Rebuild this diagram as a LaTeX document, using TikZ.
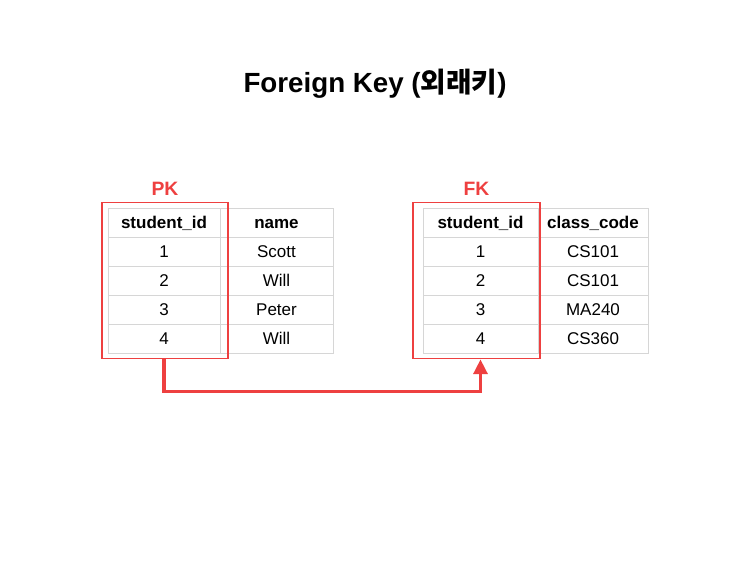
\documentclass[tikz,border=0pt]{standalone}
\usepackage{fontspec}
\setmainfont{Liberation Sans}
\newfontfamily\krfont{Noto Sans CJK KR}
\usetikzlibrary{positioning,arrows.meta,calc}
\definecolor{keyred}{HTML}{EE4040}
\definecolor{gridgrey}{HTML}{D6D6D6}

\begin{document}
\begin{tikzpicture}[
  x=0.75pt,y=-0.75pt,
  font=\fontsize{12.75}{15}\selectfont,
  cell/.style={draw=gridgrey,line width=0.6pt,minimum width=#1,minimum height=21.75pt,inner sep=0pt,text height=12pt,text depth=2.6pt},
  head/.style={cell=#1,font=\fontsize{12.75}{15}\selectfont\bfseries},
  keybox/.style={draw=keyred,line width=1.4pt,minimum width=#1,minimum height=117pt,inner sep=0pt},
  keylabel/.style={text=keyred,font=\fontsize{14.5}{17}\selectfont\bfseries},
  link/.style={draw=keyred,line width=2.3pt,-{Triangle[length=11pt,width=10.5pt]}},
]
  \useasboundingbox (0,0) rectangle (750,561);

  % Title.
  \node[font=\fontsize{20.8}{25}\selectfont\bfseries] (title) at (375,84)
    {Foreign Key ({\krfont 외래키})};

  % Students table.
  \node[head=84pt] (pa0) at (164,222.5) {student\_id};
  \node[head=84.75pt] (pb0) at (276.5,222.5) {name};
  \foreach \id/\nm [count=\i] in {1/Scott,2/Will,3/Peter,4/Will} {
    \node[cell=84pt] (pa\i) at (164,222.5+29*\i) {\id};
    \node[cell=84.75pt] (pb\i) at (276.5,222.5+29*\i) {\nm};
  }

  % Classes table.
  \node[head=86.25pt] (fa0) at (480.5,222.5) {student\_id};
  \node[head=82.5pt] (fb0) at (593,222.5) {class\_code};
  \foreach \id/\cc [count=\i] in {1/CS101,2/CS101,3/MA240,4/CS360} {
    \node[cell=86.25pt] (fa\i) at (480.5,222.5+29*\i) {\id};
    \node[cell=82.5pt] (fb\i) at (593,222.5+29*\i) {\cc};
  }

  % Key columns.
  \node[keybox=94.5pt] (pk) at (165,280.5) {};
  \node[keybox=95.25pt] (fk) at (476.5,280.5) {};
  \node[keylabel,above=1pt of pk] (pklabel) {PK};
  \node[keylabel,above=1pt of fk] (fklabel) {FK};

  \draw[link] (pk.south -| pa4.south) -- ++(0,32) -| (fk.south -| fa4.south);

\end{tikzpicture}
\end{document}
